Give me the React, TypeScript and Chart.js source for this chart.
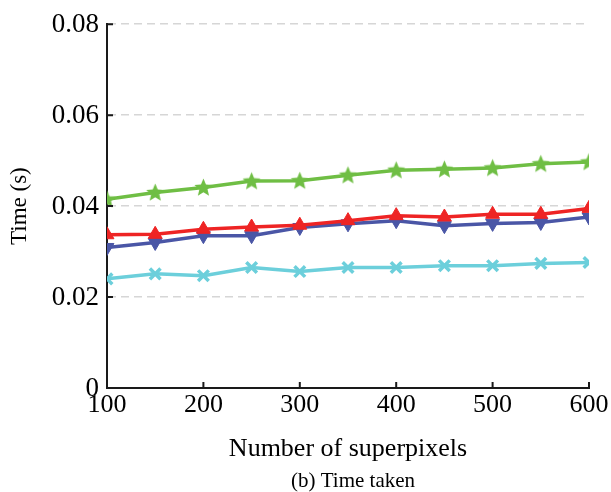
import React, { useEffect, useRef } from "react";
import { Chart, registerables } from "chart.js";

Chart.register(...registerables);

const superpixels = [100, 150, 200, 250, 300, 350, 400, 450, 500, 550, 600];
const greenStar = [0.0415, 0.0430, 0.0441, 0.0455, 0.0456, 0.0468, 0.0479, 0.0481, 0.0484, 0.0493, 0.0497];
const redUp = [0.0337, 0.0338, 0.0349, 0.0354, 0.0358, 0.0368, 0.0379, 0.0376, 0.0382, 0.0382, 0.0395];
const blueDown = [0.0309, 0.0320, 0.0335, 0.0335, 0.0353, 0.0361, 0.0368, 0.0357, 0.0362, 0.0364, 0.0376];
const cyanCross = [0.0240, 0.0251, 0.0247, 0.0265, 0.0256, 0.0265, 0.0265, 0.0269, 0.0269, 0.0274, 0.0276];
const yTicks = [0, 0.02, 0.04, 0.06, 0.08];
const xTicks = [100, 200, 300, 400, 500, 600];

const FONT = "'Liberation Serif', 'Times New Roman', serif";

function makeStar(color: string, r: number): HTMLCanvasElement {
  const size = Math.ceil(r * 2 + 2);
  const c = document.createElement("canvas");
  c.width = size;
  c.height = size;
  const ctx = c.getContext("2d")!;
  const cx = size / 2;
  const cy = size / 2 + 0.5;
  const inner = r * 0.45;
  ctx.beginPath();
  for (let i = 0; i < 10; i++) {
    const rad = (Math.PI / 5) * i - Math.PI / 2;
    const rr = i % 2 === 0 ? r : inner;
    const x = cx + Math.cos(rad) * rr;
    const y = cy + Math.sin(rad) * rr;
    if (i === 0) ctx.moveTo(x, y);
    else ctx.lineTo(x, y);
  }
  ctx.closePath();
  ctx.fillStyle = color;
  ctx.fill();
  return c;
}

export default function App() {
  const ref = useRef<HTMLCanvasElement>(null);

  useEffect(() => {
    if (!ref.current) return;
    const green = "#6fbe44";
    const red = "#ee2424";
    const blue = "#4a56a6";
    const cyan = "#6ccfdb";
    const star = makeStar(green, 9.5);

    const toPts = (arr: number[]) => arr.map((v, i) => ({ x: superpixels[i], y: v }));

    const innerTicks = {
      id: "innerTicks",
      afterDraw(chart: any) {
        const { ctx, chartArea, scales } = chart;
        ctx.save();
        ctx.strokeStyle = "#1a1a1a";
        ctx.lineWidth = 2;
        ctx.beginPath();
        for (const v of yTicks) {
          const y = scales.y.getPixelForValue(v);
          ctx.moveTo(chartArea.left, y);
          ctx.lineTo(chartArea.left + 6, y);
        }
        for (const v of xTicks) {
          const x = scales.x.getPixelForValue(v);
          ctx.moveTo(x, chartArea.bottom);
          ctx.lineTo(x, chartArea.bottom - 6);
        }
        ctx.stroke();
        ctx.fillStyle = "#000";
        ctx.font = `21px ${FONT}`;
        ctx.textAlign = "center";
        ctx.textBaseline = "alphabetic";
        ctx.fillText("(b) Time taken", 353, 487);
        ctx.restore();
      },
    };

    const chart = new Chart(ref.current, {
      type: "line",
      data: {
        datasets: [
          {
            label: "A",
            data: toPts(greenStar),
            borderColor: green,
            backgroundColor: green,
            borderWidth: 3.5,
            pointStyle: star as any,
            pointRadius: 9,
          },
          {
            label: "B",
            data: toPts(redUp),
            borderColor: red,
            backgroundColor: red,
            borderWidth: 3.5,
            pointStyle: "triangle",
            pointRadius: 8,
            pointBorderWidth: 1,
          },
          {
            label: "C",
            data: toPts(blueDown),
            borderColor: blue,
            backgroundColor: blue,
            borderWidth: 3.5,
            pointStyle: "triangle",
            pointRotation: 180,
            pointRadius: 8,
            pointBorderWidth: 1,
          },
          {
            label: "D",
            data: toPts(cyanCross),
            borderColor: cyan,
            backgroundColor: cyan,
            borderWidth: 3.5,
            pointStyle: "crossRot",
            pointRadius: 7.5,
            pointBorderWidth: 3.5,
          },
        ],
      },
      options: {
        animation: false,
        responsive: false,
        maintainAspectRatio: false,
        layout: { padding: { left: 0, top: 23, right: 22, bottom: 27 } },
        plugins: { legend: { display: false }, tooltip: { enabled: false } },
        scales: {
          x: {
            type: "linear",
            min: 100,
            max: 600,
            afterFit: (s: any) => {
              s.height = 77;
            },
            afterBuildTicks: (s: any) => {
              s.ticks = xTicks.map((v) => ({ value: v }));
            },
            ticks: {
              padding: 2,
              color: "#000",
              font: { family: FONT, size: 26 },
              maxRotation: 0,
              autoSkip: false,
            },
            grid: { display: false, drawTicks: false },
            border: { display: true, color: "#1a1a1a", width: 2 },
            title: {
              display: true,
              text: "Number of superpixels",
              color: "#000",
              font: { family: FONT, size: 26 },
              padding: { top: 0, bottom: 0 },
            },
          },
          y: {
            min: 0,
            max: 0.08,
            afterFit: (s: any) => {
              s.width = 107;
            },
            afterBuildTicks: (s: any) => {
              s.ticks = yTicks.map((v) => ({ value: v }));
            },
            ticks: {
              padding: 8,
              color: "#000",
              font: { family: FONT, size: 27 },
              labelOffset: 1,
              callback: (v: any) => (Number(v) === 0 ? "0" : Number(v).toFixed(2)),
            },
            grid: {
              drawTicks: false,
              lineWidth: 1.5,
              color: (ctx: any) => (ctx.tick && ctx.tick.value === 0 ? "rgba(0,0,0,0)" : "#d6d6d6"),
            },
            border: { display: true, color: "#1a1a1a", width: 2, dash: [8, 5] },
            title: {
              display: true,
              text: "Time (s)",
              color: "#000",
              font: { family: FONT, size: 23 },
              padding: { top: 6, bottom: 0 },
            },
          },
        },
      },
      plugins: [innerTicks],
    });
    return () => chart.destroy();
  }, []);

  return (
    <div style={{ position: "fixed", left: 0, top: 0, width: 611, height: 492, background: "#fff" }}>
      <canvas ref={ref} width={611} height={492} style={{ width: 611, height: 492 }} />
    </div>
  );
}
